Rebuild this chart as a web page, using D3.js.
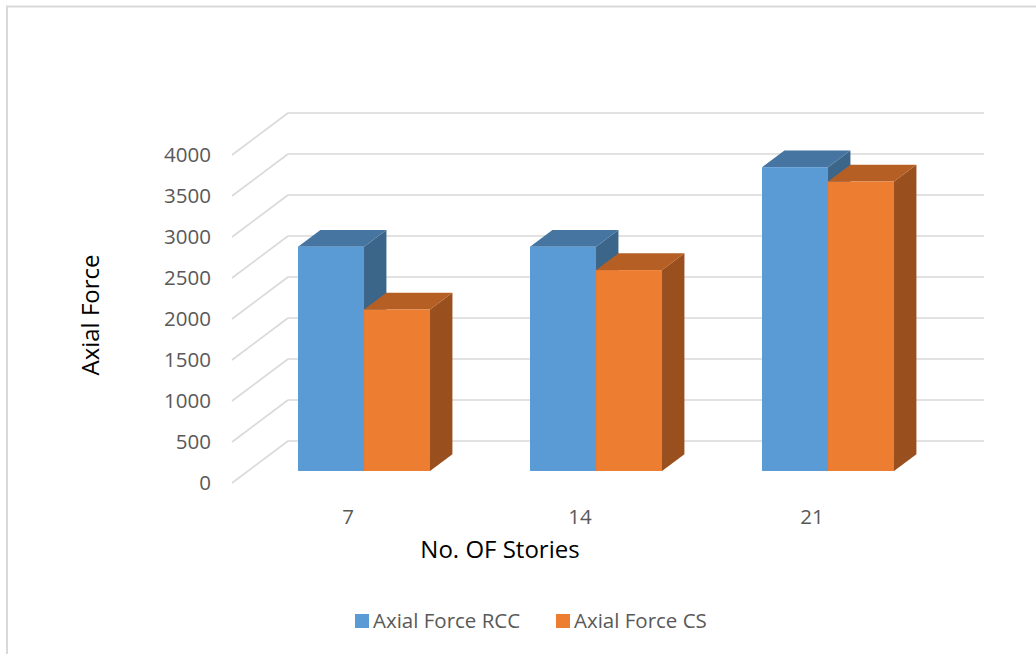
<!DOCTYPE html>
<html>
<head>
<meta charset="utf-8">
<script src="https://cdn.jsdelivr.net/npm/d3@7"></script>
<style>
  html, body { margin: 0; padding: 0; background: #fff; }
  svg { display: block; }
  text { font-family: "Open Sans", Lato, "Liberation Sans", sans-serif; }
</style>
</head>
<body>
<svg id="chart" width="1036" height="654"></svg>
<script>
// Data
const categories = ["7", "14", "21"];
const seriesNames = ["Axial Force RCC", "Axial Force CS"];
const rccValues = [2735, 2735, 3705];
const csValues = [1970, 2450, 3530];
const yTicks = [0, 500, 1000, 1500, 2000, 2500, 3000, 3500, 4000];

const seriesValues = [rccValues, csValues];
const colors = [
  { front: "#5B9BD5", top: "#4575A0", side: "#3B6589" },
  { front: "#ED7D31", top: "#B55F24", side: "#9A4F1E" }
];

const svg = d3.select("#chart");

// Chart frame
svg.append("path")
  .attr("d", "M7,654 V6.5 H1036")
  .attr("fill", "none")
  .attr("stroke", "#D9D9D9")
  .attr("stroke-width", 2);

// Oblique projection: front plane + depth vector
const frontLeft = 232, frontRight = 928;
const depthDX = 56, depthDY = -42;
const barDepthStart = 0.286, barDepthEnd = 0.686;

const y = d3.scaleLinear().domain([0, 4000]).range([483, 155]);
const gap = 100 / 232;
const x = d3.scaleBand().domain(categories)
  .range([frontLeft, frontRight])
  .paddingInner(gap).paddingOuter(gap / 2);
const xs = d3.scaleBand().domain(seriesNames).range([0, x.bandwidth()]);

const px = (xv, d) => xv + d * depthDX;
const py = (v, d) => y(v) + d * depthDY;

// Walls: back gridlines and side-wall diagonals
const grid = svg.append("g").attr("stroke", "#D9D9D9").attr("stroke-width", 1.6).attr("fill", "none");
yTicks.forEach(t => {
  grid.append("line")
    .attr("x1", px(frontLeft, 1)).attr("y1", py(t, 1))
    .attr("x2", px(frontRight, 1)).attr("y2", py(t, 1));
  grid.append("line")
    .attr("x1", px(frontLeft, 0)).attr("y1", py(t, 0))
    .attr("x2", px(frontLeft, 1)).attr("y2", py(t, 1));
});

// Y tick labels
svg.append("g").selectAll("text").data(yTicks).join("text")
  .attr("x", 211).attr("y", d => y(d))
  .attr("dy", "0.35em")
  .attr("text-anchor", "end")
  .attr("fill", "#595959")
  .attr("font-size", 20.5)
  .text(d => d);

// Category labels
svg.append("g").selectAll("text").data(categories).join("text")
  .attr("x", d => x(d) + x.bandwidth() / 2)
  .attr("y", 517)
  .attr("dy", "0.35em")
  .attr("text-anchor", "middle")
  .attr("fill", "#595959")
  .attr("font-size", 20.5)
  .text(d => d);

// 3D columns
const bars = svg.append("g");
categories.forEach((c, ci) => {
  seriesNames.forEach((s, si) => {
    const v = seriesValues[si][ci];
    const x0 = x(c) + xs(s), x1 = x0 + xs.bandwidth();
    const d0 = barDepthStart, d1 = barDepthEnd;
    const col = colors[si];
    const poly = pts => pts.map(p => p.join(",")).join(" ");
    // right side
    bars.append("polygon")
      .attr("points", poly([[px(x1, d0), py(0, d0)], [px(x1, d1), py(0, d1)], [px(x1, d1), py(v, d1)], [px(x1, d0), py(v, d0)]]))
      .attr("fill", col.side);
    // top
    bars.append("polygon")
      .attr("points", poly([[px(x0, d0), py(v, d0)], [px(x1, d0), py(v, d0)], [px(x1, d1), py(v, d1)], [px(x0, d1), py(v, d1)]]))
      .attr("fill", col.top);
    // front
    bars.append("rect")
      .attr("x", px(x0, d0)).attr("y", py(v, d0))
      .attr("width", x1 - x0).attr("height", py(0, d0) - py(v, d0))
      .attr("fill", col.front);
  });
});

// Axis titles
svg.append("text")
  .attr("transform", "translate(91,315) rotate(-90)")
  .attr("text-anchor", "middle")
  .attr("dy", "0.35em")
  .attr("fill", "#000")
  .attr("font-size", 24)
  .text("Axial Force");

svg.append("text")
  .attr("x", 500).attr("y", 550)
  .attr("text-anchor", "middle")
  .attr("dy", "0.35em")
  .attr("fill", "#000")
  .attr("font-size", 24)
  .text("No. OF Stories");

// Legend
const legend = svg.append("g");
const legendItems = [{ x: 355 }, { x: 556 }];
seriesNames.forEach((s, i) => {
  const g = legend.append("g").attr("transform", `translate(${legendItems[i].x},614)`);
  g.append("rect").attr("width", 14).attr("height", 14).attr("fill", colors[i].front);
  g.append("text").attr("x", 18).attr("y", 7).attr("dy", "0.35em")
    .attr("fill", "#595959").attr("font-size", 20.5).text(s);
});
</script>
</body>
</html>
